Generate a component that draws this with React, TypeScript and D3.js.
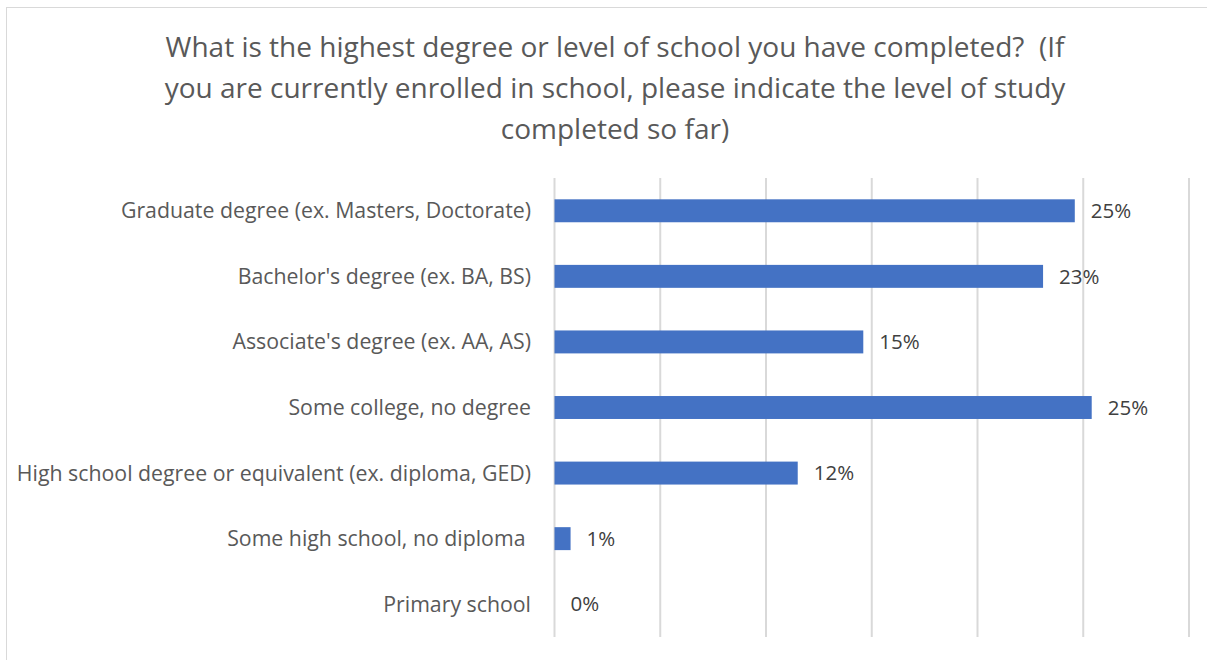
import React from "react";
import * as d3 from "d3";

const titleLines = [
  "What is the highest degree or level of school you have completed?  (If",
  "you are currently enrolled in school, please indicate the level of study",
  "completed so far)",
];

const categories = [
  "Graduate degree (ex. Masters, Doctorate)",
  "Bachelor's degree (ex. BA, BS)",
  "Associate's degree (ex. AA, AS)",
  "Some college, no degree",
  "High school degree or equivalent (ex. diploma, GED)",
  "Some high school, no diploma ",
  "Primary school",
];

const values = [0.246, 0.231, 0.146, 0.254, 0.115, 0.0076, 0];

const ticks = [0, 0.05, 0.1, 0.15, 0.2, 0.25, 0.3];

export default function App() {
  const W = 1207;
  const H = 660;
  const left = 554.5;
  const right = 1189;
  const top = 178;
  const bottom = 637;

  const x = d3.scaleLinear().domain([0, 0.3]).range([left, right]);
  const y = d3.scaleBand().domain(categories).range([top, bottom]).paddingInner(0.65).paddingOuter(0.325);
  const fmt = d3.format(".0%");
  const font = "'Open Sans', sans-serif";

  return (
    <svg
      width={W}
      height={H}
      style={{ position: "absolute", left: 0, top: 0, background: "#fff" }}
      fontFamily={font}
    >
      <rect x={6.5} y={7.5} width={1210} height={700} fill="#fff" stroke="#d9d9d9" strokeWidth={1} />
      {titleLines.map((t, i) => (
        <text key={i} x={615} y={57 + i * 41} textAnchor="middle" fontSize={28} fill="#595959" style={{ whiteSpace: "pre" }}>
          {t}
        </text>
      ))}
      {ticks.map((t) => (
        <line key={t} x1={x(t)} x2={x(t)} y1={top} y2={bottom} stroke="#d9d9d9" strokeWidth={2} />
      ))}
      {categories.map((c, i) => {
        const yc = (y(c) as number) + y.bandwidth() / 2;
        return (
          <g key={c}>
            <rect
              x={x(0)}
              y={y(c)}
              width={x(values[i]) - x(0)}
              height={y.bandwidth()}
              fill="#4472c4"
            />
            <text x={531} y={yc} dy="0.35em" textAnchor="end" fontSize={21.3} fill="#595959" style={{ whiteSpace: "pre" }}>
              {c}
            </text>
            <text x={x(values[i]) + 16} y={yc} dy="0.35em" fontSize={20.5} fill="#404040">
              {fmt(values[i])}
            </text>
          </g>
        );
      })}
    </svg>
  );
}
